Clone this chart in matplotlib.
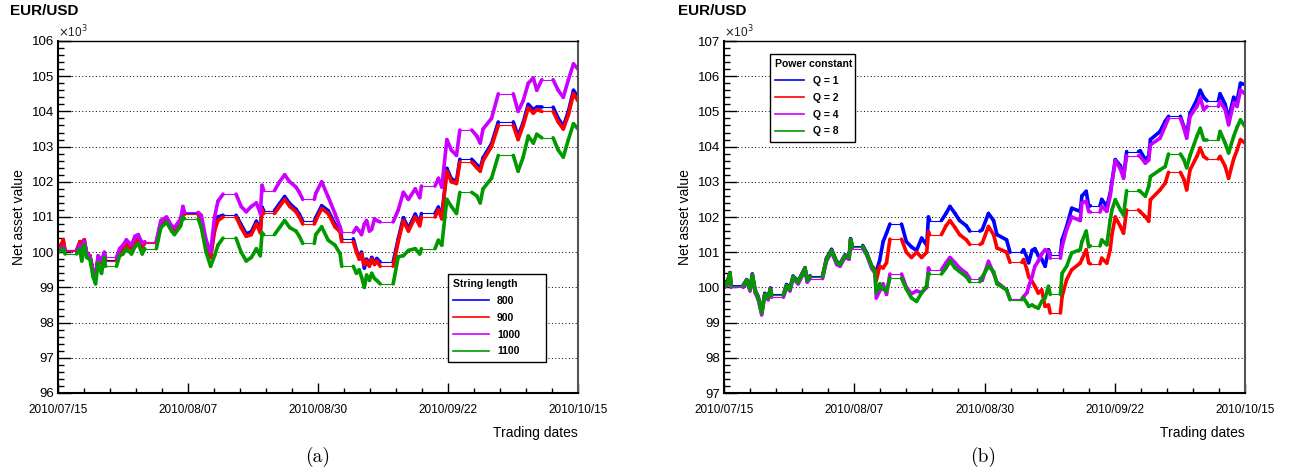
import matplotlib
matplotlib.use('Agg')
import matplotlib.pyplot as plt
import numpy as np
from matplotlib.collections import LineCollection
from matplotlib.lines import Line2D
from matplotlib.ticker import MultipleLocator

plt.rcParams['font.family'] = ['Liberation Sans', 'DejaVu Sans']

# x axis: days since 2010/07/15
DATE_TICKS = [0, 23, 46, 69, 92]
DATE_LABELS = ["2010/07/15", "2010/08/07", "2010/08/30", "2010/09/22", "2010/10/15"]

# ---------------- panel (a): string length ----------------
LEFT_DAYS = [0, 0.5, 0.94, 1.24,
             3.3, 3.9, 4.2, 4.65, 5.06, 5.65, 6.2, 6.65, 7.1, 7.7, 8.2, 8.4,
             10.35, 10.9, 11.5, 12.1, 13.0, 13.6, 14.2, 14.9, 15.35,
             17.4, 18.2, 19.2, 20.1, 20.6, 21.7, 22.1, 22.4,
             24.8, 25.35, 26.2, 27.0, 27.7, 28.3, 29.2,
             31.5, 32.4, 33.3, 34.2, 35.1, 35.8, 36.1, 36.4,
             38.3, 39.2, 40.1, 41.0, 42.1, 42.7, 43.3,
             45.35, 45.6, 46.65, 47.8, 49.0, 49.9, 50.2,
             52.25, 52.8, 53.3, 53.7, 54.2, 54.6, 55.1, 55.5, 56.0, 56.4, 57.0,
             59.3, 60.2, 61.1, 62.0, 63.2, 64.0, 64.3,
             66.7, 67.3, 67.9, 68.8, 69.6, 70.5, 71.1,
             73.2, 74.1, 74.7, 75.2, 76.7, 77.9,
             80.55, 81.4, 82.3, 83.2, 84.1, 84.7, 85.6,
             87.6, 88.5, 89.4, 90.3, 91.2, 92.0]

LEFT_800 = [100.0, 100.2, 100.3, 100.05,
            100.05, 100.3, 99.85, 100.35, 99.95, 99.9, 99.45, 99.3, 99.85, 99.7, 99.95, 99.78,
            99.78, 100.02, 100.08, 100.22, 100.12, 100.32, 100.38, 100.18, 100.28,
            100.28, 100.85, 100.95, 100.7, 100.65, 100.9, 101.15, 101.12,
            101.12, 100.9, 100.25, 99.9, 100.7, 101.0, 101.05,
            101.05, 100.78, 100.52, 100.58, 100.88, 100.62, 101.28, 101.18,
            101.18, 101.38, 101.58, 101.38, 101.22, 101.08, 100.88,
            100.88, 100.98, 101.32, 101.18, 100.8, 100.65, 100.38,
            100.38, 100.05, 99.85, 100.0, 99.55, 99.8, 99.65, 99.85, 99.7, 99.82, 99.72,
            99.72, 100.38, 100.98, 100.68, 101.08, 100.82, 101.1,
            101.1, 101.28, 101.02, 102.38, 102.08, 102.02, 102.64,
            102.64, 102.48, 102.38, 102.68, 103.08, 103.7,
            103.7, 103.3, 103.68, 104.2, 104.05, 104.12, 104.12,
            104.12, 103.8, 103.58, 104.0, 104.6, 104.4]

LEFT_900 = [100.0, 100.2, 100.35, 100.05,
            100.05, 100.3, 99.85, 100.35, 99.95, 99.9, 99.45, 99.3, 99.85, 99.7, 99.95, 99.75,
            99.75, 100.0, 100.05, 100.2, 100.1, 100.3, 100.35, 100.15, 100.25,
            100.25, 100.8, 100.9, 100.65, 100.6, 100.85, 101.1, 101.08,
            101.08, 100.85, 100.2, 99.85, 100.6, 100.9, 101.0,
            101.0, 100.7, 100.45, 100.5, 100.8, 100.55, 101.2, 101.1,
            101.1, 101.3, 101.5, 101.3, 101.15, 101.0, 100.8,
            100.8, 100.9, 101.24, 101.1, 100.72, 100.58, 100.3,
            100.3, 100.0, 99.8, 99.95, 99.65, 99.75, 99.6, 99.8, 99.65, 99.75, 99.6,
            99.6, 100.3, 100.9, 100.6, 101.0, 100.75, 101.0,
            101.0, 101.2, 100.95, 102.3, 102.0, 101.95, 102.56,
            102.56, 102.4, 102.3, 102.6, 103.0, 103.6,
            103.6, 103.2, 103.6, 104.1, 103.95, 104.05, 104.0,
            104.0, 103.7, 103.5, 103.9, 104.5, 104.3]

LEFT_1000 = [100.0, 100.1, 100.15, 100.02,
             100.02, 100.2, 99.8, 100.3, 100.0, 99.85, 99.5, 99.3, 99.9, 99.75, 100.0, 99.85,
             99.85, 100.1, 100.2, 100.35, 100.2, 100.45, 100.5, 100.25, 100.3,
             100.3, 100.9, 101.0, 100.75, 100.7, 100.95, 101.3, 101.13,
             101.13, 101.05, 100.35, 100.0, 101.0, 101.45, 101.65,
             101.65, 101.3, 101.15, 101.3, 101.4, 101.1, 101.9, 101.75,
             101.75, 102.0, 102.2, 102.0, 101.85, 101.7, 101.5,
             101.5, 101.67, 102.0, 101.57, 101.1, 100.72, 100.56,
             100.56, 100.7, 100.6, 100.5, 100.8, 100.9, 100.6, 100.65, 100.95, 100.9, 100.86,
             100.86, 101.2, 101.7, 101.5, 101.8, 101.55, 101.88,
             101.88, 102.1, 101.85, 103.2, 102.9, 102.75, 103.47,
             103.47, 103.3, 103.1, 103.5, 103.8, 104.5,
             104.5, 104.0, 104.3, 104.8, 104.95, 104.6, 104.9,
             104.9, 104.6, 104.4, 104.9, 105.35, 105.2]

LEFT_1100 = [100.0, 100.05, 100.1, 99.95,
             99.95, 100.1, 99.75, 100.2, 99.85, 99.8, 99.3, 99.1, 99.7, 99.4, 99.85, 99.6,
             99.6, 99.9, 99.95, 100.1, 99.95, 100.15, 100.25, 99.95, 100.1,
             100.1, 100.7, 100.85, 100.6, 100.5, 100.75, 101.0, 100.95,
             100.95, 100.7, 100.0, 99.6, 99.9, 100.2, 100.4,
             100.4, 100.0, 99.75, 99.85, 100.1, 99.9, 100.55, 100.5,
             100.5, 100.7, 100.9, 100.7, 100.6, 100.45, 100.25,
             100.25, 100.5, 100.72, 100.34, 100.2, 99.96, 99.6,
             99.6, 99.4, 99.5, 99.3, 99.0, 99.35, 99.2, 99.4, 99.25, 99.2, 99.1,
             99.1, 99.87, 99.9, 100.05, 100.1, 99.95, 100.1,
             100.1, 100.34, 100.2, 101.5, 101.3, 101.1, 101.7,
             101.7, 101.6, 101.4, 101.8, 102.1, 102.75,
             102.75, 102.3, 102.7, 103.3, 103.1, 103.35, 103.25,
             103.25, 102.9, 102.7, 103.2, 103.65, 103.5]

# ---------------- panel (b): power constant ----------------
RIGHT_DAYS = [0, 0.5, 1.06, 1.24,
              3.4, 4.0, 4.6, 5.0, 5.5, 6.05, 6.65, 7.2, 7.8, 8.2, 8.4,
              10.5, 11.05, 11.65, 12.2, 13.1, 14.3, 14.7, 15.2,
              17.4, 18.1, 19.0, 19.9, 20.5, 21.35, 22.1, 22.35, 22.65,
              24.5, 25.2, 26.05, 26.65, 26.9, 27.5, 28.1, 28.7, 29.3,
              31.35, 32.2, 33.1, 34.0, 34.9, 35.8, 36.1, 36.3,
              38.4, 39.2, 39.9, 40.8, 41.6, 42.8, 43.4,
              45.2, 45.6, 46.7, 47.6, 48.2, 49.9, 50.5,
              52.6, 52.9, 53.5, 53.8, 54.4, 54.9, 55.5, 56.1, 56.7, 57.3, 57.6,
              59.4, 59.7, 60.5, 61.4, 62.9, 63.2, 63.96, 64.4, 64.7,
              66.4, 66.7, 67.6, 68.2, 68.5, 69.1, 70.0, 70.55, 71.1,
              73.2, 73.5, 74.4, 75.0, 75.3, 77.0, 77.9, 78.5,
              80.6, 81.2, 81.7, 82.3, 83.5, 84.1, 84.7, 85.3,
              87.3, 87.6, 88.5, 89.1, 90.0, 90.6, 91.2, 92.0]

RIGHT_Q1 = [100.0, 100.12, 100.42, 100.07,
            100.07, 100.22, 99.98, 100.38, 99.93, 99.73, 99.3, 99.83, 99.73, 99.98, 99.8,
            99.8, 100.08, 99.98, 100.32, 100.18, 100.56, 100.22, 100.33,
            100.33, 100.83, 101.08, 100.73, 100.68, 100.92, 100.88, 101.38, 101.19,
            101.19, 100.98, 100.62, 100.5, 100.45, 100.78, 101.3, 101.54, 101.8,
            101.8, 101.3, 101.15, 101.05, 101.4, 101.2, 102.0, 101.9,
            101.9, 102.1, 102.3, 102.1, 101.9, 101.75, 101.6,
            101.6, 101.64, 102.1, 101.9, 101.5, 101.35, 101.0,
            101.0, 101.07, 100.85, 100.7, 101.05, 101.1, 100.9, 100.8, 100.6, 101.07, 100.93,
            100.93, 101.35, 101.73, 102.25, 102.16, 102.6, 102.73, 102.3, 102.32,
            102.32, 102.5, 102.3, 102.68, 103.0, 103.63, 103.45, 103.15, 103.86,
            103.86, 103.88, 103.63, 103.73, 104.2, 104.43, 104.72, 104.86,
            104.86, 104.57, 104.34, 104.95, 105.33, 105.6, 105.4, 105.3,
            105.3, 105.5, 105.2, 104.8, 105.4, 105.3, 105.8, 105.76]

RIGHT_Q2 = [100.0, 100.1, 100.4, 100.05,
            100.05, 100.2, 99.95, 100.35, 99.9, 99.7, 99.28, 99.8, 99.7, 99.95, 99.78,
            99.78, 100.05, 99.95, 100.3, 100.15, 100.54, 100.2, 100.3,
            100.3, 100.8, 101.05, 100.7, 100.65, 100.9, 100.85, 101.35, 101.16,
            101.16, 100.95, 100.6, 100.5, 100.2, 100.6, 100.55, 100.7, 101.37,
            101.37, 101.0, 100.85, 101.0, 100.85, 101.0, 101.58, 101.5,
            101.5, 101.75, 101.9, 101.7, 101.5, 101.35, 101.22,
            101.22, 101.26, 101.73, 101.5, 101.12, 101.0, 100.71,
            100.71, 100.79, 100.5, 100.3, 100.17, 100.03, 99.84, 99.93, 99.46, 99.5, 99.27,
            99.27, 99.74, 100.22, 100.5, 100.69, 100.8, 101.07, 100.7, 100.67,
            100.67, 100.83, 100.69, 101.07, 101.5, 102.0, 101.73, 101.54, 102.2,
            102.2, 102.15, 102.01, 101.88, 102.49, 102.77, 102.96, 103.27,
            103.27, 103.07, 102.77, 103.34, 103.72, 103.96, 103.72, 103.65,
            103.65, 103.72, 103.44, 103.1, 103.65, 103.9, 104.2, 104.1]

RIGHT_Q4 = [100.0, 100.05, 100.35, 100.0,
            100.0, 100.15, 99.9, 100.3, 99.85, 99.65, 99.22, 99.75, 99.65, 99.9, 99.72,
            99.72, 100.0, 99.9, 100.25, 100.1, 100.48, 100.15, 100.25,
            100.25, 100.75, 101.0, 100.65, 100.6, 100.85, 100.8, 101.3, 101.1,
            101.1, 100.92, 100.55, 100.4, 99.7, 99.9, 100.1, 99.8, 100.38,
            100.38, 100.0, 99.82, 99.9, 99.85, 100.0, 100.55, 100.5,
            100.5, 100.7, 100.85, 100.7, 100.55, 100.4, 100.25,
            100.25, 100.2, 100.74, 100.4, 100.15, 99.93, 99.67,
            99.67, 99.74, 99.85, 100.03, 100.3, 100.6, 100.75, 100.95, 101.07, 101.02, 100.83,
            100.83, 101.16, 101.64, 102.0, 101.9, 102.4, 102.45, 102.16, 102.14,
            102.14, 102.3, 102.16, 102.6, 102.96, 103.6, 103.36, 103.1, 103.74,
            103.74, 103.72, 103.53, 103.62, 104.05, 104.24, 104.58, 104.8,
            104.8, 104.53, 104.24, 104.86, 105.14, 105.38, 105.05, 105.14,
            105.14, 105.28, 105.05, 104.62, 105.24, 105.14, 105.6, 105.5]

RIGHT_Q8 = [100.0, 100.1, 100.4, 100.05,
            100.05, 100.2, 99.95, 100.35, 99.9, 99.7, 99.28, 99.8, 99.7, 99.95, 99.78,
            99.78, 100.05, 99.95, 100.3, 100.15, 100.54, 100.2, 100.3,
            100.3, 100.8, 101.05, 100.7, 100.65, 100.9, 100.85, 101.35, 101.16,
            101.16, 100.95, 100.6, 100.45, 99.85, 100.1, 99.95, 99.9, 100.26,
            100.26, 99.95, 99.7, 99.6, 99.85, 100.05, 100.4, 100.38,
            100.38, 100.55, 100.75, 100.55, 100.45, 100.3, 100.16,
            100.16, 100.3, 100.6, 100.45, 100.1, 99.93, 99.65,
            99.65, 99.7, 99.55, 99.46, 99.5, 99.45, 99.41, 99.6, 99.7, 100.03, 99.8,
            99.8, 100.4, 100.6, 100.98, 101.07, 101.3, 101.6, 101.16, 101.18,
            101.18, 101.35, 101.21, 101.92, 102.2, 102.49, 102.2, 102.06, 102.75,
            102.75, 102.73, 102.59, 102.87, 103.15, 103.34, 103.43, 103.79,
            103.79, 103.63, 103.4, 103.75, 104.29, 104.52, 104.2, 104.2,
            104.2, 104.43, 104.1, 103.82, 104.29, 104.55, 104.76, 104.57]

LEFT_SERIES = [("800", LEFT_800, "#0000ff"), ("900", LEFT_900, "#ff0000"),
               ("1000", LEFT_1000, "#cc00ff"), ("1100", LEFT_1100, "#009900")]
RIGHT_SERIES = [("Q = 1", RIGHT_Q1, "#0000ff"), ("Q = 2", RIGHT_Q2, "#ff0000"),
                ("Q = 4", RIGHT_Q4, "#cc00ff"), ("Q = 8", RIGHT_Q8, "#009900")]


def draw_series(ax, days, values, color):
    x = np.asarray(days, dtype=float)
    y = np.asarray(values, dtype=float) * 1e3
    assert len(x) == len(y), (len(x), len(y))
    pts = np.column_stack([x, y])
    segs = np.stack([pts[:-1], pts[1:]], axis=1)
    # weekend gaps: flat, thin connector; trading periods: thick noisy band
    flat = (np.abs(np.diff(y)) < 1e-6) & (np.diff(x) > 1.0)
    widths = np.where(flat, 0.8, 2.6)
    ax.add_collection(LineCollection(segs, colors=color, linewidths=widths,
                                     capstyle='round', joinstyle='round'))


def setup_axes(ax, ymin, ymax):
    ax.set_xlim(0, 92)
    ax.set_ylim(ymin * 1e3, ymax * 1e3)
    ax.set_xticks(DATE_TICKS, DATE_LABELS)
    ax.xaxis.set_minor_locator(MultipleLocator(4.6))
    yt = np.arange(ymin, ymax + 1)
    ax.set_yticks(yt * 1e3, [str(v) for v in yt])
    ax.yaxis.set_minor_locator(MultipleLocator(200))
    ax.tick_params(axis='both', which='both', direction='in', top=False, right=False, width=1)
    ax.tick_params(axis='y', which='major', length=9, labelsize=9.5, pad=3)
    ax.tick_params(axis='y', which='minor', length=4)
    ax.tick_params(axis='x', which='major', length=7, labelsize=8.5, pad=8)
    ax.tick_params(axis='x', which='minor', length=3.5)
    ax.yaxis.grid(True, which='major', linestyle=(0, (1, 2.5)), color='black', lw=0.7)
    for s in ['left', 'bottom']:
        ax.spines[s].set_linewidth(1.5)
    ax.spines['top'].set_linewidth(1.0)
    ax.spines['right'].set_linewidth(1.5)
    ax.spines['right'].set_color('#555555')
    ax.text(0.0, 1.003, r'$\times$10$^{3}$', transform=ax.transAxes, ha='left', va='bottom',
            fontsize=8.5, color='#222222')


fig = plt.figure(figsize=(12.91, 4.76), dpi=100)
ax1 = fig.add_axes([58 / 1291, 1 - 393 / 476, 520 / 1291, 352 / 476])
ax2 = fig.add_axes([724 / 1291, 1 - 393 / 476, 521 / 1291, 352 / 476])

setup_axes(ax1, 96, 106)
setup_axes(ax2, 97, 107)

for name, vals, col in LEFT_SERIES:
    draw_series(ax1, LEFT_DAYS, vals, col)
for name, vals, col in RIGHT_SERIES:
    draw_series(ax2, RIGHT_DAYS, vals, col)

h1 = [Line2D([], [], color=c, lw=1.2) for _, _, c in LEFT_SERIES]
leg1 = ax1.legend(h1, [n for n, _, _ in LEFT_SERIES], title="String length",
                  loc='upper left', bbox_to_anchor=(0.75, 0.338, 0.188, 0.0), mode='expand',
                  prop={'weight': 'bold', 'size': 7.5}, title_fontproperties={'weight': 'bold', 'size': 7.5},
                  alignment='left', fancybox=False, framealpha=1, edgecolor='black',
                  handlelength=3.4, labelspacing=0.65, borderaxespad=0, borderpad=0.5)
leg1.get_frame().set_linewidth(1.0)

h2 = [Line2D([], [], color=c, lw=1.2) for _, _, c in RIGHT_SERIES]
leg2 = ax2.legend(h2, [n for n, _, _ in RIGHT_SERIES], title="Power constant",
                  loc='upper left', bbox_to_anchor=(0.088, 0.963, 0.163, 0.0), mode='expand',
                  prop={'weight': 'bold', 'size': 7.5}, title_fontproperties={'weight': 'bold', 'size': 7.5},
                  alignment='left', fancybox=False, framealpha=1, edgecolor='black',
                  handlelength=2.8, labelspacing=0.65, borderaxespad=0, borderpad=0.5)
leg2.get_frame().set_linewidth(1.0)

for ax, x_title, x_cap, cap in [(ax1, 10, 318, "(a)"), (ax2, 678, 983, "(b)")]:
    fig.text(x_title / 1291, 1 - 11 / 476, "EUR/USD", fontsize=11, fontweight='bold',
             ha='left', va='center')
    fig.text(x_cap / 1291, 1 - 457 / 476, cap, fontsize=14, family='cmr10',
             ha='center', va='center')
    ax.set_ylabel("Net asset value", fontsize=10)
    ax.yaxis.set_label_coords(-0.062, 0.5)
    ax.set_xlabel("Trading dates", fontsize=10, ha='right')
    ax.xaxis.set_label_coords(1.0, -0.095)

fig.savefig("out.png", dpi=100)
